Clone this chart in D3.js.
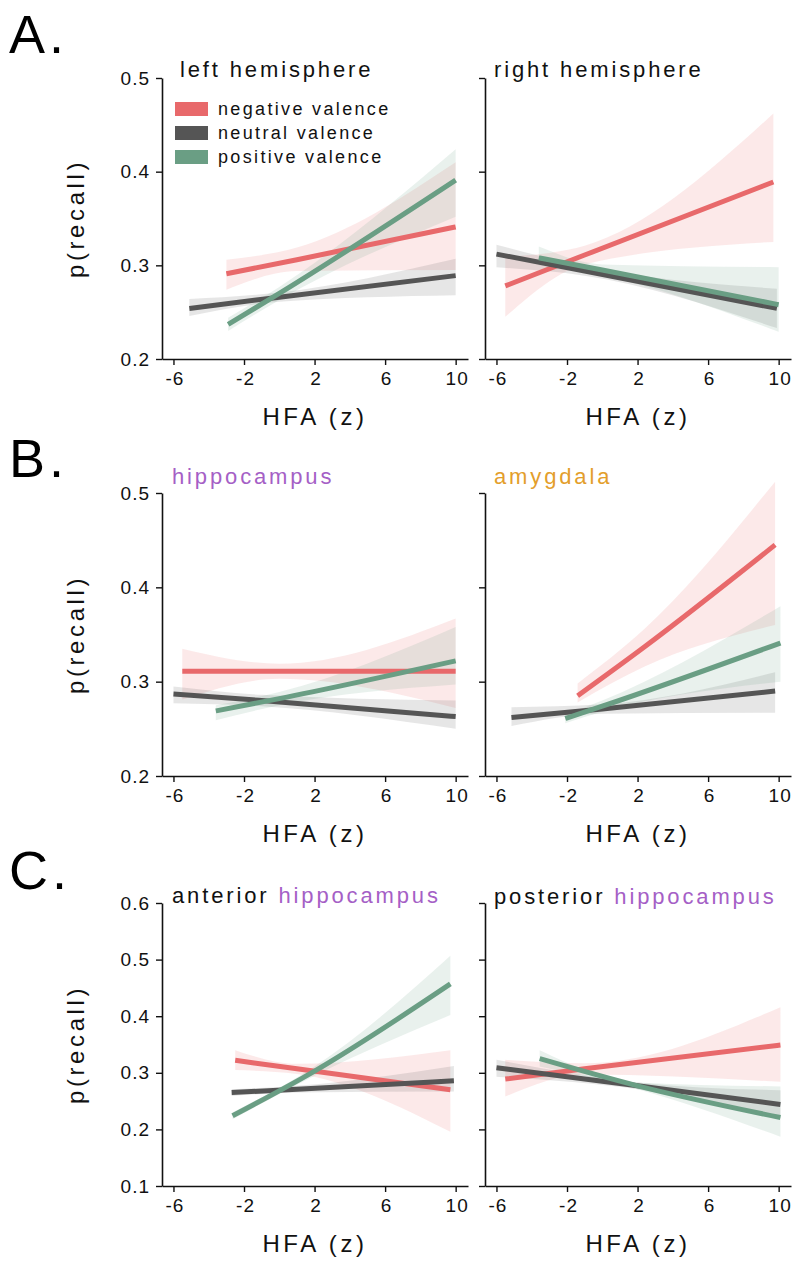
<!DOCTYPE html>
<html>
<head>
<meta charset="utf-8">
<script src="https://cdn.jsdelivr.net/npm/d3@7"></script>
<style>
  html, body { margin: 0; padding: 0; background: #fff; }
  svg { display: block; font-family: "Liberation Sans", Arial, Helvetica, sans-serif; }
</style>
</head>
<body>
<svg id="chart" width="794" height="1270"></svg>
<script>
// ---------------- DATA ----------------
const hfaTicks = [-6, -2, 2, 6, 10];
const recallTicksAB = [0.2, 0.3, 0.4, 0.5];
const recallTicksC = [0.1, 0.2, 0.3, 0.4, 0.5, 0.6];
const valenceNames = ["negative valence", "neutral valence", "positive valence"];

// each series: HFA x points, fitted p(recall), CI lower, CI upper  (order: negative, neutral, positive)
const leftHemisphere = [
  { x: [-3.0, 1.0, 10.0], y: [0.291, 0.306, 0.341], lo: [0.274, 0.294, 0.295], hi: [0.306, 0.319, 0.410] },
  { x: [-5.1, 0.0, 10.0], y: [0.254, 0.266, 0.289], lo: [0.246, 0.261, 0.268], hi: [0.264, 0.271, 0.307] },
  { x: [-2.9, 0.0, 10.0], y: [0.237, 0.270, 0.391], lo: [0.230, 0.263, 0.352], hi: [0.244, 0.277, 0.424] }
];
const rightHemisphere = [
  { x: [-5.5, -1.0, 9.7], y: [0.278, 0.311, 0.389], lo: [0.245, 0.301, 0.325], hi: [0.309, 0.321, 0.462] },
  { x: [-6.0, -1.0, 9.9], y: [0.312, 0.294, 0.254], lo: [0.298, 0.289, 0.233], hi: [0.322, 0.299, 0.275] },
  { x: [-3.6, 0.0, 10.0], y: [0.308, 0.295, 0.258], lo: [0.300, 0.289, 0.229], hi: [0.320, 0.301, 0.298] }
];
const hippocampus = [
  { x: [-5.5, 0.0, 10.0], y: [0.311, 0.311, 0.311], lo: [0.281, 0.303, 0.272], hi: [0.335, 0.319, 0.367] },
  { x: [-6.0, -1.0, 10.0], y: [0.287, 0.280, 0.263], lo: [0.277, 0.274, 0.250], hi: [0.295, 0.286, 0.280] },
  { x: [-3.6, 0.0, 10.0], y: [0.269, 0.282, 0.322], lo: [0.259, 0.275, 0.297], hi: [0.275, 0.289, 0.358] }
];
const amygdala = [
  { x: [-1.4, 2.4, 9.8], y: [0.285, 0.337, 0.445], lo: [0.278, 0.316, 0.360], hi: [0.298, 0.356, 0.512] },
  { x: [-5.15, 0.0, 9.8], y: [0.262, 0.271, 0.290], lo: [0.253, 0.266, 0.267], hi: [0.273, 0.276, 0.310] },
  { x: [-2.1, 0.0, 10.1], y: [0.261, 0.274, 0.341], lo: [0.256, 0.268, 0.300], hi: [0.265, 0.280, 0.380] }
];
const anteriorHippocampus = [
  { x: [-2.5, 1.0, 9.7], y: [0.322, 0.307, 0.270], lo: [0.305, 0.298, 0.196], hi: [0.340, 0.316, 0.340] },
  { x: [-2.7, 1.0, 9.9], y: [0.265, 0.271, 0.286], lo: [0.259, 0.265, 0.267], hi: [0.271, 0.277, 0.312] },
  { x: [-2.65, 2.0, 9.7], y: [0.224, 0.303, 0.457], lo: [0.218, 0.295, 0.402], hi: [0.230, 0.311, 0.507] }
];
const posteriorHippocampus = [
  { x: [-5.5, -1.0, 10.1], y: [0.289, 0.307, 0.349], lo: [0.258, 0.297, 0.284], hi: [0.323, 0.317, 0.416] },
  { x: [-6.0, 2.0, 10.1], y: [0.309, 0.277, 0.244], lo: [0.293, 0.271, 0.220], hi: [0.323, 0.283, 0.269] },
  { x: [-3.55, 2.0, 10.1], y: [0.325, 0.277, 0.221], lo: [0.311, 0.271, 0.187], hi: [0.340, 0.283, 0.276] }
];

// ---------------- STYLE / LAYOUT ----------------
const lineColors = ["#E8696B", "#555555", "#6A9E84"];
const purple = "#A55FC6", orange = "#E39E2B";
const colX = [162, 485];
const plotW = 306;
const rows = [
  { top: 78, bottom: 359, letter: "A.", letterY: 53, domain: [0.2, 0.5], ticks: recallTicksAB },
  { top: 493, bottom: 776, letter: "B.", letterY: 477, domain: [0.2, 0.5], ticks: recallTicksAB },
  { top: 903, bottom: 1186, letter: "C.", letterY: 889, domain: [0.1, 0.6], ticks: recallTicksC }
];
const panels = [
  { row: 0, col: 0, data: leftHemisphere, title: [["left hemisphere", "#111"]], ty: 77 },
  { row: 0, col: 1, data: rightHemisphere, title: [["right hemisphere", "#111"]], ty: 77 },
  { row: 1, col: 0, data: hippocampus, title: [["hippocampus", purple]], ty: 484 },
  { row: 1, col: 1, data: amygdala, title: [["amygdala", orange]], ty: 484 },
  { row: 2, col: 0, data: anteriorHippocampus, title: [["anterior ", "#111"], ["hippocampus", purple]], ty: 903 },
  { row: 2, col: 1, data: posteriorHippocampus, title: [["posterior ", "#111"], ["hippocampus", purple]], ty: 904 }
];

const svg = d3.select("#chart");
const LS = "0.15em";
const curve = d3.curveMonotoneX;

rows.forEach(r => {
  svg.append("text").attr("x", 9).attr("y", r.letterY)
    .attr("font-size", 54).attr("letter-spacing", "4px").attr("fill", "#000").text(r.letter);
});

panels.forEach(p => {
  const r = rows[p.row];
  const x0 = colX[p.col];
  const xs = d3.scaleLinear().domain([-6.65, 10.7]).range([x0, x0 + plotW]);
  const ys = d3.scaleLinear().domain(r.domain).range([r.bottom, r.top]);
  const g = svg.append("g");

  // bands
  p.data.forEach((s, i) => {
    const pts = s.x.map((xv, k) => ({ x: xv, lo: s.lo[k], hi: s.hi[k] }));
    g.append("path")
      .attr("d", d3.area().curve(curve).x(d => xs(d.x)).y0(d => ys(d.lo)).y1(d => ys(d.hi))(pts))
      .attr("fill", lineColors[i]).attr("fill-opacity", 0.15).attr("stroke", "none");
  });
  // lines
  p.data.forEach((s, i) => {
    const pts = s.x.map((xv, k) => ({ x: xv, y: s.y[k] }));
    g.append("path")
      .attr("d", d3.line().curve(curve).x(d => xs(d.x)).y(d => ys(d.y))(pts))
      .attr("fill", "none").attr("stroke", lineColors[i]).attr("stroke-width", 5);
  });

  // axes
  const yAxis = d3.axisLeft(ys).tickValues(r.ticks).tickSize(6).tickPadding(6).tickSizeOuter(0)
    .tickFormat(p.col === 0 ? (d => d.toFixed(1)) : () => "");
  const ya = svg.append("g").attr("transform", `translate(${x0},0)`).call(yAxis);
  const xAxis = d3.axisBottom(xs).tickValues(hfaTicks).tickSize(6).tickPadding(7).tickSizeOuter(0)
    .tickFormat(d => String(d));
  const xa = svg.append("g").attr("transform", `translate(0,${r.bottom})`).call(xAxis);
  [ya, xa].forEach(a => {
    a.attr("font-size", 19);
    a.selectAll("path.domain").attr("stroke", "#111").attr("stroke-width", 1.6);
    a.selectAll(".tick line").attr("stroke", "#111").attr("stroke-width", 1.4);
    a.selectAll("text").attr("font-size", 19).attr("fill", "#111")
      .attr("font-family", "'Liberation Sans', Arial, sans-serif").attr("letter-spacing", "1px");
  });
  xa.selectAll("text").attr("dx", "1px");

  // x label
  svg.append("text").attr("x", x0 + plotW / 2).attr("y", r.bottom + 66)
    .attr("text-anchor", "middle").attr("font-size", 24).attr("letter-spacing", LS)
    .attr("fill", "#111").text("HFA (z)");
  // y label
  if (p.col === 0) {
    const cy = (r.top + r.bottom) / 2;
    svg.append("text").attr("transform", `translate(84,${cy}) rotate(-90)`)
      .attr("text-anchor", "middle").attr("font-size", 24).attr("letter-spacing", LS)
      .attr("fill", "#111").text("p(recall)");
  }
  // title
  const t = svg.append("text").attr("x", p.col === 0 ? 172 : 494).attr("y", p.ty)
    .attr("font-size", 22).attr("letter-spacing", "0.13em");
  p.title.forEach(([txt, c]) => t.append("tspan").attr("fill", c).text(txt));
  if (p.row === 0 && p.col === 0) t.attr("x", 180);
});

// legend
const leg = svg.append("g");
valenceNames.forEach((name, i) => {
  const cy = 109 + i * 24;
  leg.append("rect").attr("x", 175).attr("y", cy - 7).attr("width", 33).attr("height", 14)
    .attr("fill", lineColors[i]);
  leg.append("text").attr("x", 218).attr("y", cy + 6).attr("font-size", 18)
    .attr("letter-spacing", "0.13em").attr("fill", "#111").text(name);
});
</script>
</body>
</html>
